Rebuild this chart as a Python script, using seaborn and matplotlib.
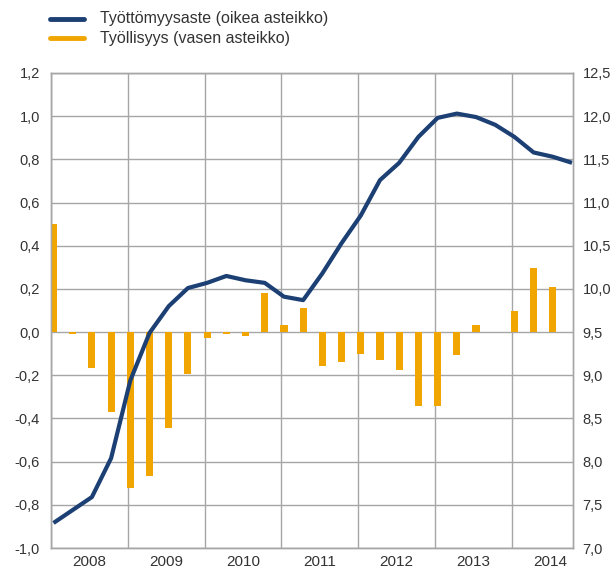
import numpy as np
import pandas as pd
import matplotlib
matplotlib.use("Agg")
import matplotlib.pyplot as plt
import seaborn as sns

years = [2008, 2009, 2010, 2011, 2012, 2013, 2014]
quarters = [f"{y}Q{q}" for y in years for q in range(1, 5)]

# Työllisyys, muutos (vasen asteikko), 2008Q1-2014Q3
employment = [0.50, -0.01, -0.165, -0.37, -0.72, -0.665, -0.443, -0.193,
              -0.026, -0.008, -0.02, 0.182, 0.032, 0.11, -0.157, -0.139,
              -0.10, -0.128, -0.175, -0.34, -0.34, -0.106, 0.032, 0.002,
              0.097, 0.296, 0.208]
# Työttömyysaste (oikea asteikko), 2008Q1-2014Q4
unemployment = [7.29, 7.44, 7.59, 8.04, 8.94, 9.49, 9.80, 10.01,
                10.07, 10.15, 10.10, 10.07, 9.91, 9.87, 10.18, 10.53,
                10.85, 11.26, 11.46, 11.76, 11.98, 12.03, 11.99, 11.90,
                11.76, 11.58, 11.53, 11.46]

left_ticks = [-1.0, -0.8, -0.6, -0.4, -0.2, 0.0, 0.2, 0.4, 0.6, 0.8, 1.0, 1.2]
right_ticks = [7.0, 7.5, 8.0, 8.5, 9.0, 9.5, 10.0, 10.5, 11.0, 11.5, 12.0, 12.5]

BLUE = "#1c3f74"
ORANGE = "#f0a500"
GRID = "#a6a6a6"
TEXT = "#333333"

sns.set_style("white")
plt.rcParams["font.family"] = ["Liberation Sans", "DejaVu Sans"]

bars = pd.DataFrame({"x": np.arange(len(employment)), "v": employment})
line = pd.DataFrame({"x": np.arange(len(unemployment)), "v": unemployment})

fig = plt.figure(figsize=(6.16, 5.71), dpi=100)
ax = fig.add_axes([51 / 616, 23 / 571, 522 / 616, 475 / 571])
ax2 = ax.twinx()

sns.barplot(data=bars, x="x", y="v", native_scale=True, color=ORANGE,
            width=0.37, saturation=1, linewidth=0, ax=ax, zorder=3)
sns.lineplot(data=line, x="x", y="v", color=BLUE, lw=3, ax=ax2,
             solid_capstyle="butt")

x0, x1 = -0.13, 27.05
ax.set_xlim(x0, x1)
ax2.set_xlim(x0, x1)
ax.set_ylim(-1.0, 1.2)
ax2.set_ylim(7.0, 12.5)

ax.set_yticks(left_ticks)
ax.set_yticklabels([f"{v:.1f}".replace(".", ",") for v in left_ticks])
ax2.set_yticks(right_ticks)
ax2.set_yticklabels([f"{v:.1f}".replace(".", ",") for v in right_ticks])

bounds = [x0 + 4 * k for k in range(7)]
ax.set_xticks(bounds)
ax.set_xticklabels([])
ax.set_xticks([b + 2 for b in bounds], minor=True)
ax.set_xticklabels([str(y) for y in years], minor=True)
ax.tick_params(axis="x", which="major", length=8, color=GRID, width=1)
ax.tick_params(axis="x", which="minor", length=0, pad=5, labelsize=11, labelcolor=TEXT)
ax.tick_params(axis="y", length=0, pad=8, labelsize=10.5, labelcolor=TEXT)
ax2.tick_params(axis="y", length=0, pad=7, labelsize=10.5, labelcolor=TEXT)

ax.grid(True, which="major", color=GRID, lw=1, zorder=0)
ax.set_axisbelow(True)
for a in (ax, ax2):
    for s in a.spines.values():
        s.set_color(GRID)
        s.set_linewidth(1)
ax.set_xlabel("")
ax.set_ylabel("")
ax2.set_xlabel("")
ax2.set_ylabel("")

# legend
fig.lines.append(plt.Line2D([50 / 616, 84 / 616], [1 - 19 / 571, 1 - 19 / 571],
                            color=BLUE, lw=3.5, transform=fig.transFigure))
fig.lines.append(plt.Line2D([50 / 616, 84 / 616], [1 - 38 / 571, 1 - 38 / 571],
                            color=ORANGE, lw=3.5, transform=fig.transFigure))
fig.text(100 / 616, 1 - 19 / 571, "Työttömyysaste (oikea asteikko)", va="center",
         fontsize=11.5, color=TEXT)
fig.text(100 / 616, 1 - 38 / 571, "Työllisyys (vasen asteikko)", va="center",
         fontsize=11.5, color=TEXT)

fig.savefig("out.png", dpi=100)
